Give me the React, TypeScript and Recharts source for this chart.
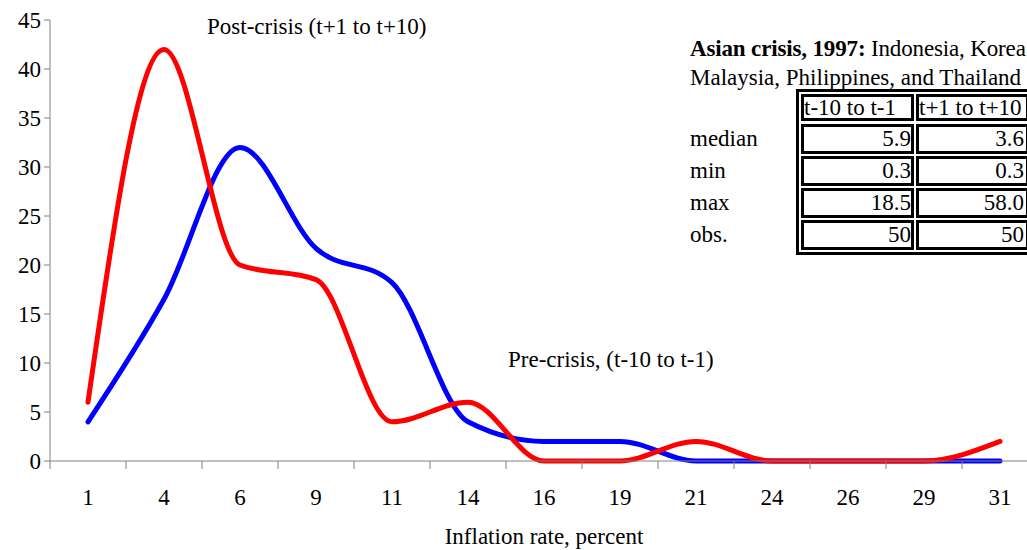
import React from "react";
import { LineChart, Line, XAxis, YAxis } from "recharts";

// inflation-rate bins (percent)
const rates = ["1", "4", "6", "9", "11", "14", "16", "19", "21", "24", "26", "29", "31"];
// post-crisis (t+1 to t+10) frequencies
const postCrisis = [6, 42, 20, 18.5, 4, 6, 0, 0, 2, 0, 0, 0, 2];
// pre-crisis (t-10 to t-1) frequencies
const preCrisis = [4, 16.5, 32, 21.7, 18.2, 4, 2, 2, 0, 0, 0, 0, 0];
const yTicks = [0, 5, 10, 15, 20, 25, 30, 35, 40, 45];

// summary table
const tableHeader = ["t-10 to t-1", "t+1 to t+10"];
const tableRows = ["median", "min", "max", "obs."];
const tablePre = ["5.9", "0.3", "18.5", "50"];
const tablePost = ["3.6", "0.3", "58.0", "50"];

const data = rates.map((r, i) => ({ rate: r, post: postCrisis[i], pre: preCrisis[i] }));

const FONT = "'Liberation Serif', 'Times New Roman', serif";
const FS = 23;
const BAND = 76;

const XTick = (props: any) => {
  const { x, y, payload, index } = props;
  const last = index === rates.length - 1;
  return (
    <g>
      <line x1={x - BAND / 2} y1={y} x2={x - BAND / 2} y2={y + 8} stroke="#808080" />
      {last && <line x1={x + BAND / 2} y1={y} x2={x + BAND / 2} y2={y + 8} stroke="#808080" />}
      <text x={x} y={y + 44} textAnchor="middle" fontSize={FS} fill="#000" fontFamily={FONT}>
        {payload.value}
      </text>
    </g>
  );
};

const cellStyle: React.CSSProperties = {
  position: "absolute",
  border: "3px solid #000",
  boxSizing: "border-box",
  fontSize: FS,
  whiteSpace: "nowrap",
  overflow: "hidden",
  width: 113,
};

// row tops / heights of the little table (header first)
const rowTop = [94, 124, 156, 188, 220];
const rowH = [27, 30, 30, 30, 30];
const colLeft = [801, 916];

export default function App() {
  return (
    <div
      style={{
        position: "absolute",
        left: 0,
        top: 0,
        width: 1027,
        height: 550,
        overflow: "hidden",
        background: "#fff",
        fontFamily: FONT,
        color: "#000",
      }}
    >
      <LineChart width={1040} height={550} data={data} margin={{ top: 20, right: 2, left: 0, bottom: 0 }}>
        <XAxis
          dataKey="rate"
          height={89}
          tickLine={false}
          tickSize={0}
          tickMargin={0}
          stroke="#808080"
          padding={{ left: BAND / 2, right: BAND / 2 }}
          tick={<XTick />}
          interval={0}
          label={{
            value: "Inflation rate, percent",
            position: "insideBottom",
            offset: 6,
            fill: "#000",
            fontSize: FS,
            fontFamily: FONT,
          }}
        />
        <YAxis
          width={50}
          domain={[0, 45]}
          ticks={yTicks}
          interval={0}
          stroke="#808080"
          tickSize={6}
          tickMargin={3}
          tick={{ fill: "#000", fontSize: FS, fontFamily: FONT }}
        />
        <Line
          type="monotone"
          dataKey="pre"
          stroke="#0000ff"
          strokeWidth={5}
          strokeLinecap="round"
          dot={false}
          isAnimationActive={false}
        />
        <Line
          type="monotone"
          dataKey="post"
          stroke="#ff0000"
          strokeWidth={5}
          strokeLinecap="round"
          dot={false}
          isAnimationActive={false}
        />
      </LineChart>

      <div style={{ position: "absolute", left: 207, top: 14, fontSize: FS, lineHeight: "26px", whiteSpace: "nowrap" }}>
        Post-crisis (t+1 to t+10)
      </div>
      <div style={{ position: "absolute", left: 508, top: 347, fontSize: FS, lineHeight: "26px", whiteSpace: "nowrap" }}>
        Pre-crisis, (t-10 to t-1)
      </div>

      <div
        style={{
          position: "absolute",
          left: 690,
          top: 34,
          fontSize: FS,
          lineHeight: "29px",
          whiteSpace: "nowrap",
          fontFamily: FONT,
        }}
      >
        <div style={{ letterSpacing: -0.15 }}>
          <b>Asian crisis, 1997:</b> Indonesia, Korea
        </div>
        <div>Malaysia, Philippines, and Thailand</div>
      </div>

      {tableRows.map((r, i) => (
        <div
          key={r}
          style={{ position: "absolute", left: 690, top: rowTop[i + 1] + 2, fontSize: FS, lineHeight: "26px" }}
        >
          {r}
        </div>
      ))}

      <div
        style={{
          position: "absolute",
          left: 796,
          top: 89,
          width: 240,
          height: 166,
          border: "3px solid #000",
          boxSizing: "border-box",
        }}
      />
      {tableHeader.map((h, j) => (
        <div
          key={h}
          style={{ ...cellStyle, left: colLeft[j], top: rowTop[0], height: rowH[0], lineHeight: "21px" }}
        >
          {h}
        </div>
      ))}
      {tableRows.map((r, i) =>
        [tablePre[i], tablePost[i]].map((v, j) => (
          <div
            key={r + j}
            style={{
              ...cellStyle,
              left: colLeft[j],
              top: rowTop[i + 1],
              height: rowH[i + 1],
              lineHeight: "24px",
              textAlign: "right",
              paddingRight: j === 1 ? 2 : 0,
            }}
          >
            {v}
          </div>
        ))
      )}
    </div>
  );
}
